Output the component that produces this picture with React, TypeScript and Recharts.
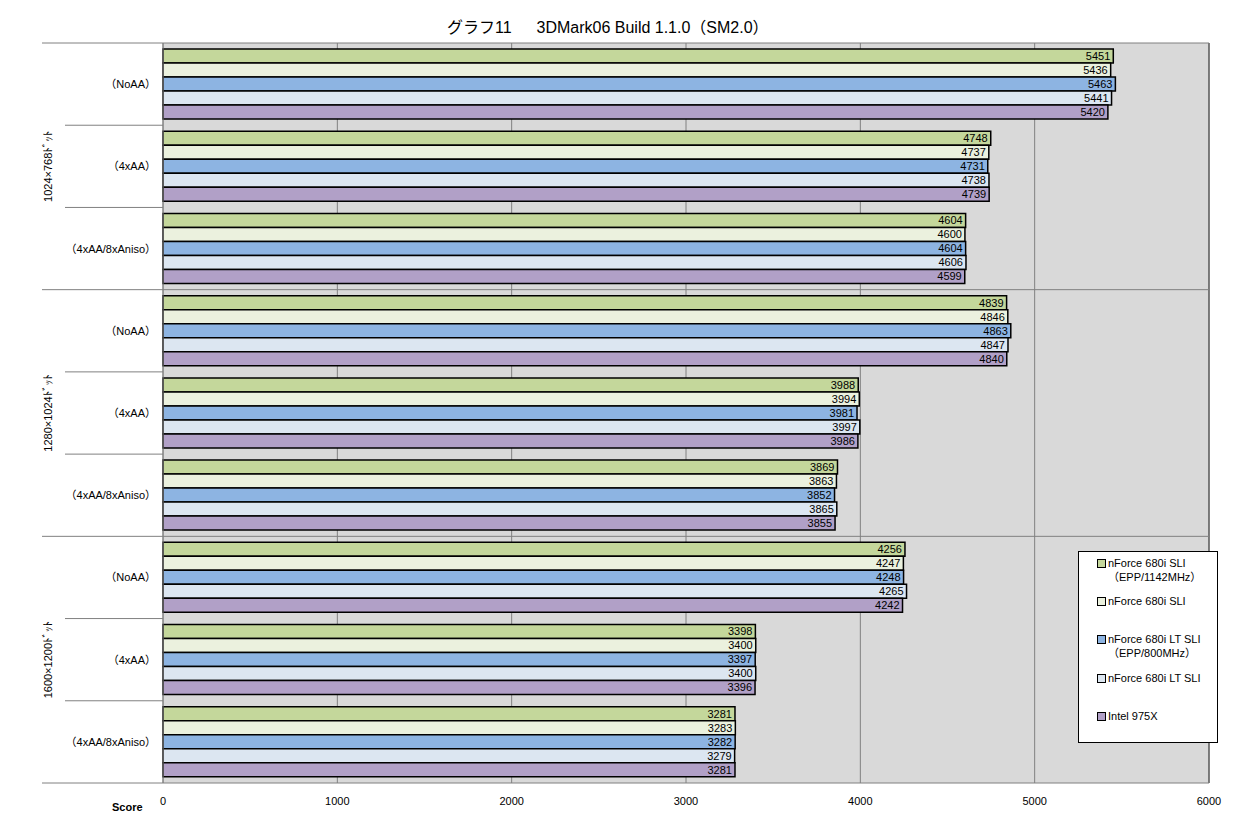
import { BarChart, Bar, XAxis, YAxis, CartesianGrid, LabelList, ReferenceLine } from "recharts";

const resolutions = ["1024×768ﾄﾞｯﾄ", "1280×1024ﾄﾞｯﾄ", "1600×1200ﾄﾞｯﾄ"];
const settings = ["（NoAA）", "（4xAA）", "（4xAA/8xAniso）"];
const xTicks = [0, 1000, 2000, 3000, 4000, 5000, 6000];

const seriesNames = [
    ["nForce 680i SLI", "（EPP/1142MHz）"],
    ["nForce 680i SLI"],
    ["nForce 680i LT SLI", "（EPP/800MHz）"],
    ["nForce 680i LT SLI"],
    ["Intel 975X"],
];
const seriesColors = ["#c4d79b", "#ebf1de", "#8db4e2", "#dce6f1", "#b1a0c7"];

const epp1142 = [5451, 4748, 4604, 4839, 3988, 3869, 4256, 3398, 3281];
const sli680i = [5436, 4737, 4600, 4846, 3994, 3863, 4247, 3400, 3283];
const lt800 = [5463, 4731, 4604, 4863, 3981, 3852, 4248, 3397, 3282];
const ltSli = [5441, 4738, 4606, 4847, 3997, 3865, 4265, 3400, 3279];
const i975x = [5420, 4739, 4599, 4840, 3986, 3855, 4242, 3396, 3281];

const seriesValues = [epp1142, sli680i, lt800, ltSli, i975x];
const keys = ["s0", "s1", "s2", "s3", "s4"];

const data = resolutions.flatMap((res, r) =>
    settings.map((set, s) => {
        const i = r * settings.length + s;
        const row: any = { name: `${r}-${s}`, res, set };
        keys.forEach((k, j) => (row[k] = seriesValues[j][i]));
        return row;
    })
);

const W = 1239;
const H = 824;
const TOP = 43;
const BOTTOM = 41;
const LEFT = 163;
const RIGHT = 30;
const PLOT_H = H - TOP - BOTTOM;
const FONT = "'Liberation Sans', 'Noto Sans CJK JP', sans-serif";

function CategoryTick(props: any) {
    const { y, index } = props;
    const row = data[index];
    const band = PLOT_H / data.length;
    const top = y - band / 2;
    const groupStart = index % settings.length === 0;
    const groupMid = index % settings.length === 1;
    return (
        <g>
            <text x={LEFT - 7} y={y} textAnchor="end" dominantBaseline="central" fontSize={11} fill="#000" fontFamily={FONT}>
                {row.set}
            </text>
            <line x1={groupStart ? 42 : 65} x2={groupStart ? W - RIGHT : LEFT} y1={top} y2={top} stroke="#808080" />
            {index === data.length - 1 && (
                <line x1={42} x2={LEFT} y1={y + band / 2} y2={y + band / 2} stroke="#808080" />
            )}
            {groupMid && (
                <text
                    x={48}
                    y={y}
                    transform={`rotate(-90 48 ${y})`}
                    textAnchor="middle"
                    dominantBaseline="central"
                    fontSize={11}
                    fill="#000"
                    fontFamily={FONT}
                >
                    {row.res}
                </text>
            )}
        </g>
    );
}

export default function App() {
    return (
        <div style={{ position: "absolute", left: 0, top: 0, width: W, height: H, background: "#fff", fontFamily: FONT }}>
            <div
                style={{
                    position: "absolute",
                    top: 14,
                    left: 447,
                    fontSize: 16,
                    whiteSpace: "pre",
                }}
            >
                {"グラフ11　  3DMark06 Build 1.1.0（SM2.0）"}
            </div>

            <BarChart
                width={W}
                height={H}
                data={data}
                layout="vertical"
                margin={{ top: TOP, right: RIGHT, bottom: 0, left: 0 }}
                barSize={14}
                barGap={0}
            >
                <CartesianGrid horizontal={false} stroke="#808080" fill="#d9d9d9" />
                <XAxis
                    type="number"
                    domain={[0, 6000]}
                    ticks={xTicks}
                    height={BOTTOM}
                    tickLine={false}
                    axisLine={{ stroke: "#808080" }}
                    tick={{ fontSize: 11, fill: "#000", fontFamily: FONT }}
                    tickMargin={8}
                />
                <YAxis
                    type="category"
                    dataKey="name"
                    width={LEFT}
                    tickLine={false}
                    axisLine={{ stroke: "#808080" }}
                    tick={<CategoryTick />}
                    interval={0}
                />
                <ReferenceLine x={6000} stroke="#404040" />
                {keys.map((k, j) => (
                    <Bar key={k} dataKey={k} fill={seriesColors[j]} stroke="#000" strokeWidth={1.5} isAnimationActive={false}>
                        <LabelList
                            dataKey={k}
                            position="insideRight"
                            offset={3}
                            fontSize={11}
                            fill="#000"
                            fontFamily={FONT}
                        />
                    </Bar>
                ))}
            </BarChart>

            <div style={{ position: "absolute", left: 112, top: 801, fontSize: 11, fontWeight: "bold" }}>Score</div>

            <div
                style={{
                    position: "absolute",
                    left: 1078,
                    top: 551,
                    width: 140,
                    height: 192,
                    background: "#fff",
                    border: "1px solid #000",
                    boxSizing: "border-box",
                    fontSize: 11,
                }}
            >
                {seriesNames.map((lines, j) => (
                    <div key={j} style={{ position: "absolute", left: 18, top: 4 + j * 38.2, lineHeight: "14px" }}>
                        <span
                            style={{
                                position: "absolute",
                                left: 0,
                                top: 3,
                                width: 7,
                                height: 7,
                                background: seriesColors[j],
                                border: "1px solid #000",
                            }}
                        />
                        {lines.map((t, n) => (
                            <div key={n} style={{ paddingLeft: 11, whiteSpace: "nowrap" }}>
                                {t}
                            </div>
                        ))}
                    </div>
                ))}
            </div>
        </div>
    );
}
